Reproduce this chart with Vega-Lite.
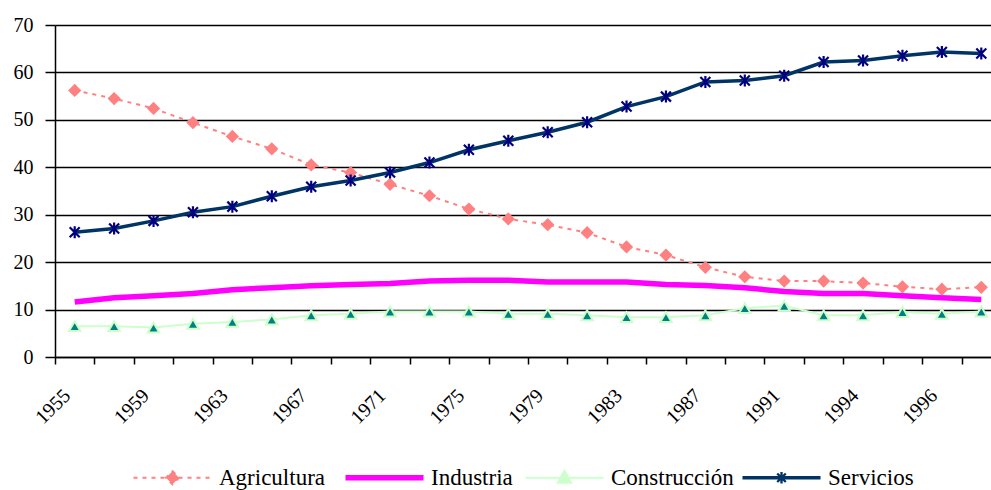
{
  "$schema": "https://vega.github.io/schema/vega-lite/v6.json",
  "autosize": "none",
  "padding": {"left": 55, "top": 25, "right": 0, "bottom": 133},
  "width": 936,
  "height": 332,
  "config": {
    "view": {"stroke": null},
    "font": "Liberation Serif"
  },
  "data": {
    "values": [
      {"year": "1955", "series": "Agricultura", "value": 56.2}, {"year": "1955", "series": "Industria", "value": 11.6}, {"year": "1955", "series": "Construcción", "value": 6.5}, {"year": "1955", "series": "Servicios", "value": 26.3},
      {"year": "1957", "series": "Agricultura", "value": 54.5}, {"year": "1957", "series": "Industria", "value": 12.5}, {"year": "1957", "series": "Construcción", "value": 6.5}, {"year": "1957", "series": "Servicios", "value": 27.1},
      {"year": "1959", "series": "Agricultura", "value": 52.4}, {"year": "1959", "series": "Industria", "value": 12.9}, {"year": "1959", "series": "Construcción", "value": 6.2}, {"year": "1959", "series": "Servicios", "value": 28.7},
      {"year": "1961", "series": "Agricultura", "value": 49.4}, {"year": "1961", "series": "Industria", "value": 13.4}, {"year": "1961", "series": "Construcción", "value": 7.0}, {"year": "1961", "series": "Servicios", "value": 30.5},
      {"year": "1963", "series": "Agricultura", "value": 46.5}, {"year": "1963", "series": "Industria", "value": 14.2}, {"year": "1963", "series": "Construcción", "value": 7.4}, {"year": "1963", "series": "Servicios", "value": 31.7},
      {"year": "1965", "series": "Agricultura", "value": 43.9}, {"year": "1965", "series": "Industria", "value": 14.6}, {"year": "1965", "series": "Construcción", "value": 7.9}, {"year": "1965", "series": "Servicios", "value": 33.9},
      {"year": "1967", "series": "Agricultura", "value": 40.5}, {"year": "1967", "series": "Industria", "value": 15.0}, {"year": "1967", "series": "Construcción", "value": 8.8}, {"year": "1967", "series": "Servicios", "value": 35.9},
      {"year": "1969", "series": "Agricultura", "value": 38.9}, {"year": "1969", "series": "Industria", "value": 15.3}, {"year": "1969", "series": "Construcción", "value": 9.1}, {"year": "1969", "series": "Servicios", "value": 37.2},
      {"year": "1971", "series": "Agricultura", "value": 36.4}, {"year": "1971", "series": "Industria", "value": 15.5}, {"year": "1971", "series": "Construcción", "value": 9.6}, {"year": "1971", "series": "Servicios", "value": 38.9},
      {"year": "1973", "series": "Agricultura", "value": 34.0}, {"year": "1973", "series": "Industria", "value": 16.0}, {"year": "1973", "series": "Construcción", "value": 9.6}, {"year": "1973", "series": "Servicios", "value": 41.0},
      {"year": "1975", "series": "Agricultura", "value": 31.2}, {"year": "1975", "series": "Industria", "value": 16.2}, {"year": "1975", "series": "Construcción", "value": 9.6}, {"year": "1975", "series": "Servicios", "value": 43.7},
      {"year": "1977", "series": "Agricultura", "value": 29.1}, {"year": "1977", "series": "Industria", "value": 16.2}, {"year": "1977", "series": "Construcción", "value": 9.1}, {"year": "1977", "series": "Servicios", "value": 45.6},
      {"year": "1979", "series": "Agricultura", "value": 27.9}, {"year": "1979", "series": "Industria", "value": 15.8}, {"year": "1979", "series": "Construcción", "value": 9.1}, {"year": "1979", "series": "Servicios", "value": 47.4},
      {"year": "1981", "series": "Agricultura", "value": 26.2}, {"year": "1981", "series": "Industria", "value": 15.8}, {"year": "1981", "series": "Construcción", "value": 8.8}, {"year": "1981", "series": "Servicios", "value": 49.5},
      {"year": "1983", "series": "Agricultura", "value": 23.2}, {"year": "1983", "series": "Industria", "value": 15.8}, {"year": "1983", "series": "Construcción", "value": 8.4}, {"year": "1983", "series": "Servicios", "value": 52.8},
      {"year": "1985", "series": "Agricultura", "value": 21.5}, {"year": "1985", "series": "Industria", "value": 15.3}, {"year": "1985", "series": "Construcción", "value": 8.4}, {"year": "1985", "series": "Servicios", "value": 54.9},
      {"year": "1987", "series": "Agricultura", "value": 18.9}, {"year": "1987", "series": "Industria", "value": 15.1}, {"year": "1987", "series": "Construcción", "value": 8.8}, {"year": "1987", "series": "Servicios", "value": 58.0},
      {"year": "1989", "series": "Agricultura", "value": 16.9}, {"year": "1989", "series": "Industria", "value": 14.6}, {"year": "1989", "series": "Construcción", "value": 10.3}, {"year": "1989", "series": "Servicios", "value": 58.3},
      {"year": "1991", "series": "Agricultura", "value": 16.0}, {"year": "1991", "series": "Industria", "value": 13.8}, {"year": "1991", "series": "Construcción", "value": 10.8}, {"year": "1991", "series": "Servicios", "value": 59.3},
      {"year": "1993", "series": "Agricultura", "value": 16.0}, {"year": "1993", "series": "Industria", "value": 13.4}, {"year": "1993", "series": "Construcción", "value": 8.8}, {"year": "1993", "series": "Servicios", "value": 62.2},
      {"year": "1994", "series": "Agricultura", "value": 15.6}, {"year": "1994", "series": "Industria", "value": 13.4}, {"year": "1994", "series": "Construcción", "value": 8.8}, {"year": "1994", "series": "Servicios", "value": 62.5},
      {"year": "1995", "series": "Agricultura", "value": 14.8}, {"year": "1995", "series": "Industria", "value": 12.9}, {"year": "1995", "series": "Construcción", "value": 9.5}, {"year": "1995", "series": "Servicios", "value": 63.5},
      {"year": "1996", "series": "Agricultura", "value": 14.3}, {"year": "1996", "series": "Industria", "value": 12.5}, {"year": "1996", "series": "Construcción", "value": 9.1}, {"year": "1996", "series": "Servicios", "value": 64.3},
      {"year": "1997", "series": "Agricultura", "value": 14.7}, {"year": "1997", "series": "Industria", "value": 12.1}, {"year": "1997", "series": "Construcción", "value": 9.6}, {"year": "1997", "series": "Servicios", "value": 64.0}
    ]
  },
  "encoding": {
    "x": {
      "field": "year", "type": "ordinal", "sort": null,
      "scale": {"type": "band", "paddingInner": 0, "paddingOuter": 0, "range": [0, 946]},
      "axis": {
        "title": null, "grid": false, "tickBand": "extent",
        "labelExpr": "indexof(['1955','1959','1963','1967','1971','1975','1979','1983','1987','1991','1994','1996'], datum.label) >= 0 ? datum.label : ''",
        "labelAngle": -45, "labelAlign": "right", "labelBaseline": "top",
        "labelFont": "Liberation Serif", "labelFontSize": 20, "labelColor": "#000000",
        "labelPadding": 21, "labelOffset": -15, "labelOverlap": false, "labelBound": false, "labelFlush": false,
        "tickSize": 7, "tickColor": "#000000", "tickWidth": 1.5,
        "domainColor": "#000000", "domainWidth": 1.5
      }
    },
    "y": {
      "field": "value", "type": "quantitative",
      "scale": {"domain": [0, 70], "nice": false, "zero": true},
      "axis": {
        "title": null, "values": [0, 10, 20, 30, 40, 50, 60, 70],
        "grid": true, "gridColor": "#000000", "gridWidth": 1.3,
        "labelFont": "Liberation Serif", "labelFontSize": 20, "labelColor": "#000000",
        "labelPadding": 12, "tickSize": 10, "tickColor": "#000000", "tickWidth": 1.5,
        "domainColor": "#000000", "domainWidth": 1.5
      }
    }
  },
  "layer": [
    {
      "transform": [{"filter": "datum.series === 'Agricultura'"}],
      "mark": {"type": "line", "color": "#FF8080", "strokeWidth": 2, "strokeDash": [4, 5]}
    },
    {
      "transform": [{"filter": "datum.series === 'Industria'"}],
      "mark": {"type": "line", "color": "#FF00FF", "strokeWidth": 5.5}
    },
    {
      "transform": [{"filter": "datum.series === 'Construcción'"}],
      "mark": {"type": "line", "color": "#CCFFCC", "strokeWidth": 2}
    },
    {
      "transform": [{"filter": "datum.series === 'Servicios'"}],
      "mark": {"type": "line", "color": "#003366", "strokeWidth": 3.5}
    },
    {
      "transform": [{"filter": "datum.series === 'Agricultura'"}],
      "mark": {"type": "point", "shape": "diamond", "filled": true, "color": "#FF8080", "size": 175, "opacity": 1}
    },
    {
      "transform": [{"filter": "datum.series === 'Construcción'"}],
      "mark": {"type": "point", "shape": "triangle-up", "filled": true, "fill": "#008080", "stroke": "#CCFFCC", "strokeWidth": 2, "size": 130, "opacity": 1}
    },
    {
      "transform": [{"filter": "datum.series === 'Servicios'"}],
      "mark": {"type": "point", "shape": "M-1,-1L1,1M1,-1L-1,1M0,-1.2L0,1.2", "filled": false, "stroke": "#000080", "strokeWidth": 2.2, "size": 100, "opacity": 1}
    },
    {
      "mark": {"type": "point", "filled": true, "opacity": 0},
      "encoding": {
        "color": {
          "field": "series", "type": "nominal",
          "scale": {"domain": ["Agricultura", "Industria", "Construcción", "Servicios"], "range": ["#FF8080", "#FF00FF", "#CCFFCC", "#003366"]},
          "legend": {
            "title": null, "orient": "none", "legendX": 78, "legendY": 441, "direction": "horizontal", "padding": 0,
            "labelFont": "Liberation Serif", "labelFontSize": 23, "labelColor": "#000000", "labelLimit": 300,
            "symbolSize": 6084, "symbolOpacity": 1, "columnPadding": 8,
            "encode": {
              "symbols": {
                "update": {
                  "x": {"value": 39.5},
                  "opacity": {"value": 1},
                  "shape": {"signal": "datum.value === 'Agricultura' ? 'M-1,0L1,0M0,-0.167L0.167,0L0,0.167L-0.167,0Z' : datum.value === 'Industria' ? 'M-1,0L1,0' : datum.value === 'Construcción' ? 'M-1,0L1,0M0,-0.18L0.17,0.13L-0.17,0.13Z' : 'M-1,-0.045H1V0.045H-1ZM-0.03,-0.15H0.03V0.15H-0.03ZM-0.089,-0.131L0.131,0.089L0.089,0.131L-0.131,-0.089ZM0.089,-0.131L0.131,-0.089L-0.089,0.131L-0.131,0.089Z'"},
                  "fill": {"signal": "datum.value === 'Agricultura' ? '#FF8080' : datum.value === 'Construcción' ? '#008080' : datum.value === 'Servicios' ? '#003366' : 'transparent'"},
                  "stroke": {"signal": "datum.value === 'Agricultura' ? '#FF8080' : datum.value === 'Industria' ? '#FF00FF' : datum.value === 'Construcción' ? '#CCFFCC' : 'transparent'"},
                  "strokeWidth": {"signal": "datum.value === 'Industria' ? 5.5 : datum.value === 'Servicios' ? 0 : 2"},
                  "strokeDash": {"signal": "datum.value === 'Agricultura' ? [4, 5] : [1, 0]"}
                }
              },
              "labels": {
                "update": {
                  "x": {"value": 86}
                }
              }
            }
          }
        }
      }
    }
  ]
}
